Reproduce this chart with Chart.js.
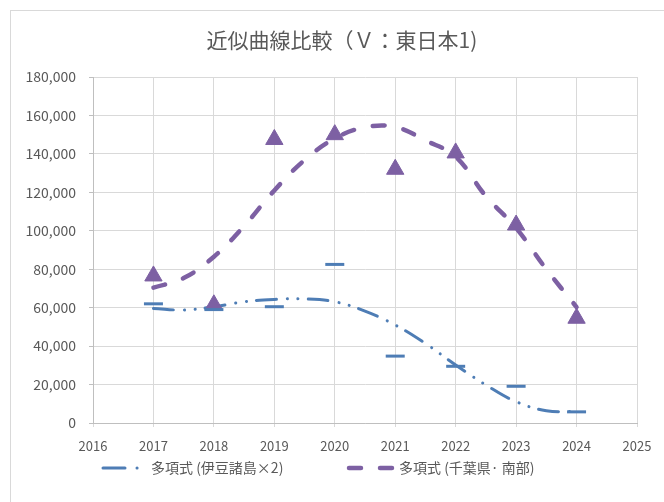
<!DOCTYPE html>
<html>
<head>
<meta charset="utf-8">
<script src="https://cdn.jsdelivr.net/npm/chart.js@4.4.0/dist/chart.umd.min.js"></script>
<style>
    html, body { margin: 0; padding: 0; background: #fff; overflow: hidden; }
</style>
</head>
<body>
<canvas id="chart" width="664" height="502"></canvas>
<script>
// values
const years = [2017, 2018, 2019, 2020, 2021, 2022, 2023, 2024];
const izuValues = [62000, 59000, 60500, 82500, 34800, 29500, 19100, 5800];
const chibaValues = [76500, 61500, 147500, 150000, 132000, 140500, 103000, 54500];

// trendlines as seen in the picture, every half year
const trendYears = [2017, 2017.5, 2018, 2018.5, 2019, 2019.5, 2020, 2020.5, 2021, 2021.5, 2022, 2022.5, 2023, 2023.5, 2024];
const izuTrend = [59600, 58800, 60500, 63100, 64300, 64600, 63100, 58200, 51000, 41400, 30200, 19800, 11100, 6400, 5900];
const chibaTrend = [70400, 75400, 86500, 102500, 121000, 136800, 148000, 153800, 154000, 147000, 138500, 118000, 101400, 80000, 60300];

const xMin = 2016, xMax = 2025;
const yMin = 0, yMax = 180000, yStep = 20000;

const titleText = '近似曲線比較（Ｖ：東日本1)';
const izuLabel = '多項式 (伊豆諸島×2)';
const chibaLabel = '多項式 (千葉県· 南部)';

const BLUE = '#4e7db5';
const PURPLE = '#7d60a3';
const TEXT = '#595959';
const GRID = '#d9d9d9';
const FONT = '"Noto Sans CJK JP", "Noto Sans", sans-serif';

const pts = (xs, ys) => xs.map((x, i) => ({ x, y: ys[i] }));

// border, title and legend drawn like the spreadsheet chart
const decor = {
    id: 'decor',
    beforeDraw(chart) {
        const ctx = chart.ctx;
        ctx.save();
        ctx.fillStyle = '#fff';
        ctx.fillRect(0, 0, chart.width, chart.height);
        ctx.strokeStyle = GRID;
        ctx.lineWidth = 1;
        ctx.strokeRect(10.5, 10.5, 700, 600);
        ctx.restore();
    },
    afterDraw(chart) {
        const ctx = chart.ctx;
        ctx.save();
        ctx.fillStyle = TEXT;
        ctx.font = '21px ' + FONT;
        ctx.textAlign = 'center';
        ctx.textBaseline = 'middle';
        ctx.fillText(titleText, 342, 40);

        const items = [
            { ds: chart.data.datasets[2], dash: [22, 12, 0.1, 20], x0: 103, x1: 139, tx: 151 },
            { ds: chart.data.datasets[3], dash: chart.data.datasets[3].borderDash, x0: 349, x1: 392, tx: 399 }
        ];
        const ly = 468;
        items.forEach(it => {
            ctx.beginPath();
            ctx.setLineDash(it.dash);
            ctx.lineCap = 'round';
            ctx.lineWidth = it.ds.borderWidth;
            ctx.strokeStyle = it.ds.borderColor;
            ctx.moveTo(it.x0, ly);
            ctx.lineTo(it.x1, ly);
            ctx.stroke();
            ctx.setLineDash([]);
            ctx.fillStyle = TEXT;
            ctx.font = '14px ' + FONT;
            ctx.textAlign = 'left';
            ctx.fillText(it.ds.label, it.tx, ly);
        });
        ctx.restore();
    }
};

new Chart(document.getElementById('chart'), {
    type: 'scatter',
    data: {
        datasets: [
            {
                label: '伊豆諸島×2',
                data: pts(years, izuValues),
                pointStyle: 'line',
                pointRadius: 9.5,
                pointBorderWidth: 3,
                borderColor: BLUE,
                backgroundColor: BLUE,
                showLine: false
            },
            {
                label: '千葉県・南部',
                data: pts(years, chibaValues),
                pointStyle: 'triangle',
                pointRadius: 10,
                pointBorderWidth: 1,
                borderColor: PURPLE,
                backgroundColor: PURPLE,
                showLine: false
            },
            {
                label: izuLabel,
                data: pts(trendYears, izuTrend),
                showLine: true,
                pointRadius: 0,
                borderColor: BLUE,
                borderWidth: 3,
                borderDash: [20, 11, 0.1, 10.6, 0.1, 10],
                borderCapStyle: 'round',
                tension: 0.4
            },
            {
                label: chibaLabel,
                data: pts(trendYears, chibaTrend),
                showLine: true,
                pointRadius: 0,
                borderColor: PURPLE,
                borderWidth: 4.5,
                borderDash: [12, 19],
                borderCapStyle: 'round',
                tension: 0.4
            }
        ]
    },
    options: {
        responsive: false,
        animation: false,
        devicePixelRatio: 1,
        layout: { padding: { left: 10, right: 27, top: 77, bottom: 51 } },
        plugins: {
            legend: { display: false },
            title: { display: false },
            tooltip: { enabled: false }
        },
        scales: {
            x: {
                type: 'linear',
                min: xMin,
                max: xMax,
                ticks: {
                    stepSize: 1,
                    color: TEXT,
                    font: { family: FONT, size: 13 },
                    padding: 11,
                    callback: v => String(v)
                },
                grid: { color: GRID, tickLength: 4, tickColor: GRID },
                border: { color: '#bfbfbf' },
                afterFit: s => { s.height = 28; }
            },
            y: {
                min: yMin,
                max: yMax,
                ticks: {
                    stepSize: yStep,
                    color: TEXT,
                    font: { family: FONT, size: 14 },
                    padding: 13
                },
                grid: { color: GRID, tickLength: 4, tickColor: '#bfbfbf' },
                border: { color: '#bfbfbf' },
                afterFit: s => { s.width = 83; }
            }
        }
    },
    plugins: [decor]
});
</script>
</body>
</html>
